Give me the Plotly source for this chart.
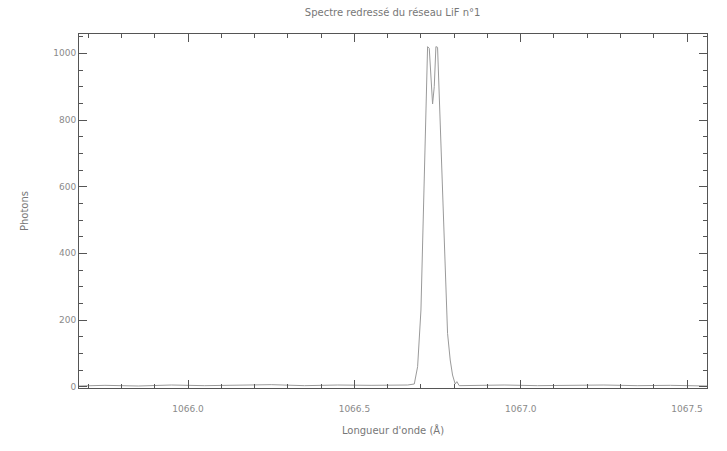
import plotly.graph_objects as go

# Wavelength (Angstrom) and photon counts
wavelength = [1065.672, 1065.75, 1065.85, 1065.95, 1066.05, 1066.15, 1066.25, 1066.35,
              1066.45, 1066.55, 1066.62, 1066.66, 1066.680, 1066.690, 1066.700, 1066.705,
              1066.710, 1066.715, 1066.720, 1066.725, 1066.730, 1066.735, 1066.740,
              1066.745, 1066.750, 1066.755, 1066.760, 1066.765, 1066.770, 1066.775,
              1066.780, 1066.788, 1066.795, 1066.803, 1066.808, 1066.815, 1066.85,
              1066.95, 1067.05, 1067.15, 1067.25, 1067.35, 1067.45, 1067.56]
photons = [2, 4, 2, 5, 3, 4, 6, 3,
           5, 4, 6, 5, 8, 60, 230, 420,
           650, 870, 1020, 1015, 920, 848, 900,
           1020, 1018, 870, 720, 580, 420, 260,
           160, 80, 35, 8, 15, 3, 4,
           5, 3, 4, 5, 3, 4, 2]

x_ticks = [1066.0, 1066.5, 1067.0, 1067.5]
y_ticks = [0, 200, 400, 600, 800, 1000]

title_text = "Spectre redressé du réseau LiF n°1"
x_title = "Longueur d'onde (Å)"
y_title = "Photons"

axis_col = "#555555"
text_col = "#8a8a8a"

fig = go.Figure()
fig.add_trace(go.Scatter(x=wavelength, y=photons, mode="lines",
                         line=dict(color="#9a9a9a", width=1), showlegend=False))

fig.update_layout(
    width=727, height=451,
    margin=dict(l=79, r=20, t=34, b=63),
    paper_bgcolor="white", plot_bgcolor="white",
    font=dict(family="DejaVu Sans", size=10, color=text_col),
    title=dict(text=title_text, x=0.54, xanchor="center", y=0.972, yanchor="middle",
               font=dict(size=10, color="#777777")),
)
fig.update_xaxes(
    range=[1065.672, 1067.56], tickvals=x_ticks, tickformat=".1f",
    showgrid=False, zeroline=False, showline=True, linecolor=axis_col, linewidth=1,
    mirror="allticks", ticks="inside", ticklen=8, tickcolor=axis_col,
    minor=dict(ticks="inside", ticklen=4, dtick=0.1, tick0=1066.0, tickcolor=axis_col),
    ticklabelstandoff=12,
    title=dict(text=x_title, standoff=14, font=dict(size=10, color="#777777")),
    tickfont=dict(size=9, color=text_col),
)
fig.update_yaxes(
    range=[-4, 1058], tickvals=y_ticks,
    showgrid=False, zeroline=False, showline=True, linecolor=axis_col, linewidth=1,
    mirror="allticks", ticks="inside", ticklen=8, tickcolor=axis_col,
    minor=dict(ticks="inside", ticklen=4, dtick=50, tick0=0, tickcolor=axis_col),
    title=dict(text=y_title, standoff=22, font=dict(size=10, color="#777777")),
    tickfont=dict(size=9, color=text_col),
)

fig.write_html("out.html")
